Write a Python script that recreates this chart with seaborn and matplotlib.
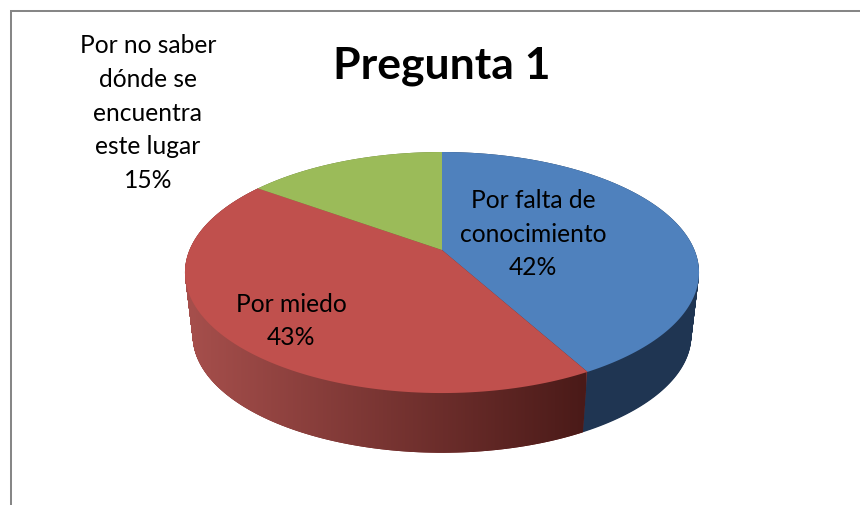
import numpy as np
import matplotlib
matplotlib.use("Agg")
import matplotlib.pyplot as plt
import seaborn as sns
from matplotlib.colors import LinearSegmentedColormap
from matplotlib.path import Path
from matplotlib.transforms import Transform, IdentityTransform, Affine2D

title = "Pregunta 1"
categories = ["Por falta de\nconocimiento", "Por miedo", "Por no saber\ndónde se\nencuentra\neste lugar"]
values = [42, 43, 15]
top_colors = ["#4F81BD", "#C0504D", "#9BBB59"]
side_colors = ["#1F3552", "#7A2E2C", "#5F7330"]
red_gradient = ["#A8504D", "#4A1A18"]
frame_color = "#868686"
label_pos = [(533, 234), (291, 321), (148, 113)]

sns.set_theme(style="white")
plt.rcParams["font.family"] = ["Lato", "DejaVu Sans"]


class Tilt(Transform):
    """Perspective view of a flat unit pie, moved to pixel coordinates."""
    input_dims = output_dims = 2

    def __init__(self, cx, cy, sx, sy, k):
        super().__init__()
        self.cx, self.cy, self.sx, self.sy, self.k = cx, cy, sx, sy, k

    def transform_non_affine(self, xy):
        xy = np.asarray(xy, float)
        w = 1 + self.k * xy[:, 1]
        return np.column_stack((self.cx + self.sx * xy[:, 0] / w,
                                self.cy - self.sy * xy[:, 1] / w))

    def transform_path_non_affine(self, path):
        big = path.transformed(Affine2D().scale(2000))
        polys = big.to_polygons(closed_only=True)
        return Path(self.transform_non_affine(polys[0] / 2000), closed=True)


fig = plt.figure(figsize=(8.6, 5.06), dpi=100)
ax = fig.add_axes([0, 0, 1, 1])

K = 0.187
def layer(t, colors, z):
    wedges, _ = ax.pie(values, colors=colors, startangle=90, counterclock=False,
                       wedgeprops=dict(linewidth=0))
    tr = Tilt(442, 251 + 64 * t, 252.5 * (1 - .03 * t), 116.3 * (1 - .03 * t), K)
    for w in wedges:
        w.set_transform(tr + ax.transData)
        w.set_zorder(z)
    return wedges

red_side = []
for t in np.linspace(1, 0, 90):
    wedges = layer(t, side_colors, 1)
    red_side.append(wedges[1])
layer(0, top_colors, 3)

ax.set_aspect("auto")
ax.set_xlim(0, 860)
ax.set_ylim(506, 0)
ax.axis("off")

cmap = LinearSegmentedColormap.from_list("side", red_gradient)
img = ax.imshow(np.linspace(0, 1, 256)[None, :], cmap=cmap, aspect="auto",
                extent=(180, 586, 506, 0), zorder=2)
ax.set_xlim(0, 860)
ax.set_ylim(506, 0)
fig.canvas.draw()
clip = Path.make_compound_path(*[w.get_transform().transform_path(w.get_path()) for w in red_side])
img.set_clip_path(clip, IdentityTransform())

ax.plot([11, 11, 860], [506, 12, 12], color=frame_color, lw=1.45, zorder=0,
        solid_joinstyle="miter")

for name, v, (x, y) in zip(categories, values, label_pos):
    ax.text(x, y, f"{name}\n{v}%", ha="center", va="center", fontsize=17.7,
            color="black", linespacing=1.555, zorder=5)
ax.text(442, 66, title, ha="center", va="center", fontsize=32, fontweight="bold",
        color="black", zorder=5)

fig.savefig("out.png", dpi=100)
